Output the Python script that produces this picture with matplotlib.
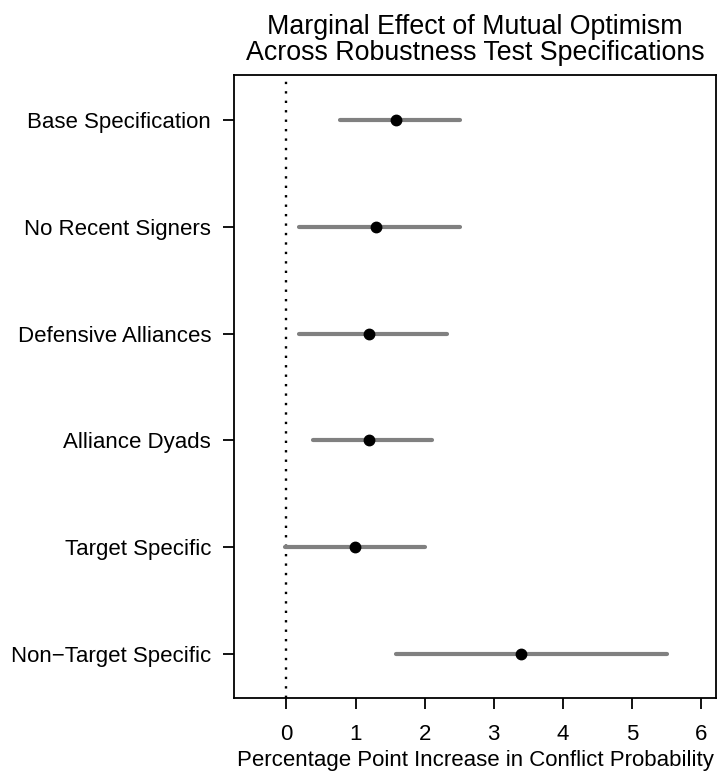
import numpy as np
import matplotlib
matplotlib.use('Agg')
import matplotlib.pyplot as plt

plt.rcParams['font.family'] = ['Liberation Sans', 'DejaVu Sans']

specs = ['Base Specification', 'No Recent Signers', 'Defensive Alliances',
         'Alliance Dyads', 'Target Specific', 'Non\u2212Target Specific']
effect = [1.59, 1.29, 1.20, 1.20, 0.99, 3.40]
lower = [0.78, 0.18, 0.18, 0.39, -0.02, 1.58]
upper = [2.51, 2.51, 2.32, 2.11, 2.01, 5.51]
xticks = [0, 1, 2, 3, 4, 5, 6]

fig = plt.figure(figsize=(7.17, 7.74), dpi=100)
ax = fig.add_axes([234/717, 1-698/774, (716-234)/717, (698-75)/774])

ypos = np.arange(1, len(specs)+1)
ax.axvline(0, color='black', lw=1.7, linestyle=(0, (1, 3)), zorder=1)
ax.hlines(ypos, lower, upper, color='#808080', lw=3, capstyle='round', zorder=2)
ax.plot(effect, ypos, 'o', color='black', markersize=7.5, zorder=3)

ax.set_xlim(-0.76, 6.22)
ax.set_ylim(6.41, 0.58)
ax.set_xticks(xticks)
ax.set_yticks(ypos)
ax.set_yticklabels(specs)
ax.tick_params(axis='both', labelsize=16, length=8, width=1.3)
ax.tick_params(axis='x', pad=10.5)
ax.tick_params(axis='y', pad=8.5)
for sp in ax.spines.values():
    sp.set_linewidth(1.3)
ax.set_xlabel('Percentage Point Increase in Conflict Probability', fontsize=16, labelpad=3.5)
ax.set_title('Marginal Effect of Mutual Optimism\nAcross Robustness Test Specifications',
             fontsize=19.3, pad=11, linespacing=1.0)

fig.savefig('out.png', dpi=100)
